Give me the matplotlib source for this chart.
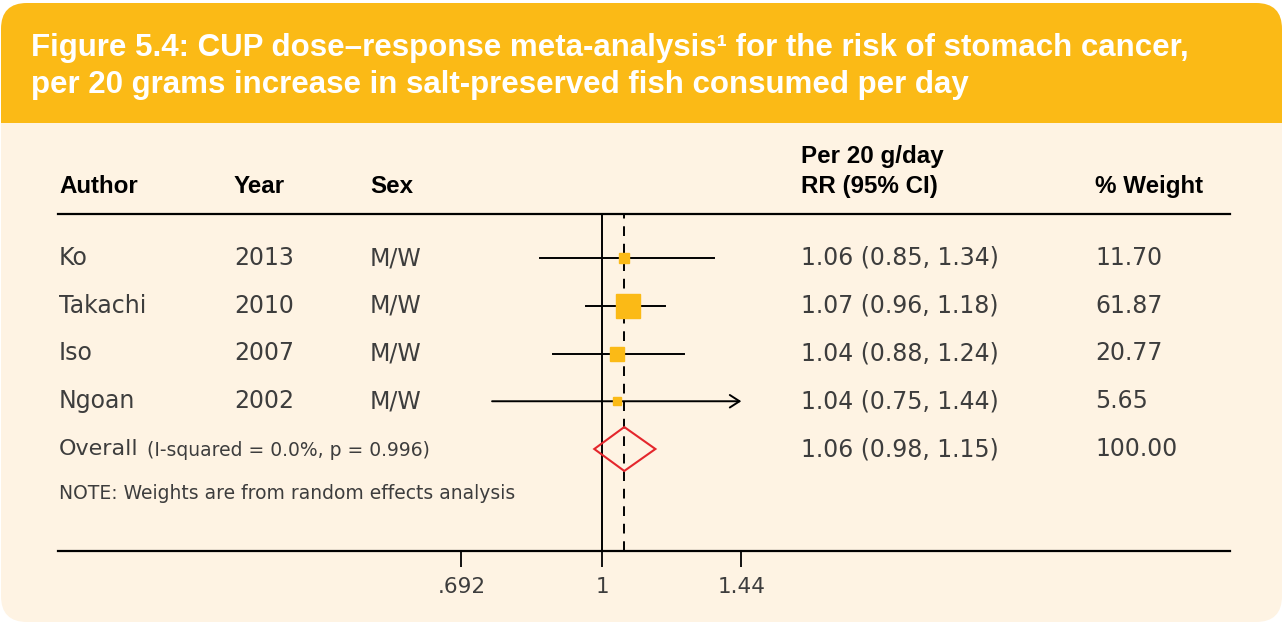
import numpy as np
import matplotlib
matplotlib.use("Agg")
import matplotlib.pyplot as plt
from matplotlib.patches import FancyBboxPatch, Rectangle, Polygon
from matplotlib.transforms import IdentityTransform, blended_transform_factory

# ---------------- data ----------------
authors = ["Ko", "Takachi", "Iso", "Ngoan"]
years = ["2013", "2010", "2007", "2002"]
sexes = ["M/W", "M/W", "M/W", "M/W"]
rr = [1.06, 1.07, 1.04, 1.04]
ci_low = [0.85, 0.96, 0.88, 0.75]
ci_high = [1.34, 1.18, 1.24, 1.44]
weights = [11.70, 61.87, 20.77, 5.65]
overall_rr = 1.06
overall_low = 0.98
overall_high = 1.15
overall_weight = 100.00
tick_values = [0.692, 1, 1.44]
tick_labels = [".692", "1", "1.44"]

title1 = "Figure 5.4: CUP dose\u2013response meta-analysis\u00b9 for the risk of stomach cancer,"
title2 = "per 20 grams increase in salt-preserved fish consumed per day"

# ---------------- style ----------------
W, H = 1283, 626
ORANGE = "#FBBA16"
CREAM = "#FEF3E3"
TXT = "#3D3D3D"
RED = "#E4262C"
BODY = ["DejaVu Sans"]
BOLD = ["Liberation Sans", "DejaVu Sans"]
TITLE_FONT = ["Liberation Sans", "DejaVu Sans"]

fig = plt.figure(figsize=(W / 100, H / 100), dpi=100, facecolor="white")

# background panels (pixel coords, origin bottom-left)
fig.patches.append(FancyBboxPatch((1, 4), W - 2, H - 7, boxstyle="round,pad=0,rounding_size=26",
                                  transform=IdentityTransform(), facecolor=CREAM, edgecolor="none", zorder=-3))
fig.patches.append(FancyBboxPatch((1, H - 123), W - 2, 120, boxstyle="round,pad=0,rounding_size=26",
                                  transform=IdentityTransform(), facecolor=ORANGE, edgecolor="none", zorder=-2))
fig.patches.append(Rectangle((1, H - 123), W - 2, 40, transform=IdentityTransform(),
                             facecolor=ORANGE, edgecolor="none", zorder=-2))

def fx(px):
    return px / W

def fy(py):
    return 1 - py / H

# title
fig.text(fx(31), fy(56), title1, color="white", fontsize=22.5, fontweight="bold",
         family=TITLE_FONT, va="baseline", ha="left")
fig.text(fx(31), fy(93), title2, color="white", fontsize=22.5, fontweight="bold",
         family=TITLE_FONT, va="baseline", ha="left")

# forest axes
x_left, x_right, y_top, y_bot = 58, 1230, 214, 551
ax = fig.add_axes([fx(x_left), fy(y_bot), (x_right - x_left) / W, (y_bot - y_top) / H])
ax.set_zorder(1)
ax.set_facecolor("none")
ax.set_xscale("log")
px_per_log = (742 - 462) / (np.log(1.44) - np.log(0.692))
ax.set_xlim(np.exp((x_left - 602) / px_per_log), np.exp((x_right - 602) / px_per_log))
row_gap = 47.75
ax.set_ylim((y_bot - 258) / row_gap, (y_top - 258) / row_gap)

for s in ["left", "right"]:
    ax.spines[s].set_visible(False)
for s in ["top", "bottom"]:
    ax.spines[s].set_linewidth(1.6)
    ax.spines[s].set_color("black")
ax.set_yticks([])
ax.set_xticks(tick_values)
ax.set_xticklabels(tick_labels)
ax.minorticks_off()
ax.tick_params(axis="x", which="major", direction="out", length=11.5, width=1.3, pad=7,
               labelsize=15.5, labelcolor=TXT, color="black")
for lab in ax.get_xticklabels():
    lab.set_family(BODY)

ax.axvline(1, color="black", lw=1.4, zorder=2)
ax.axvline(overall_rr, color="black", lw=1.4, ls=(0, (5, 4)), zorder=2)

rows = np.arange(len(authors))
for i in rows:
    hi = min(ci_high[i], tick_values[-1])
    if ci_high[i] >= tick_values[-1]:
        ax.annotate("", xy=(hi, i), xytext=(ci_low[i], i),
                    arrowprops=dict(arrowstyle="->,head_length=0.7,head_width=0.45", lw=1.4, color="black",
                                    shrinkA=0, shrinkB=0), zorder=3)
    else:
        ax.plot([ci_low[i], hi], [i, i], color="black", lw=1.4, zorder=3)
    ax.plot(rr[i], i, marker="s", ms=2.2 * np.sqrt(weights[i]), color=ORANGE, mec=ORANGE,
            zorder=4, ls="none")

oy = len(authors)
diamond = Polygon([(overall_low, oy), (overall_rr, oy - 0.46), (overall_high, oy), (overall_rr, oy + 0.46)],
                  closed=True, facecolor="none", edgecolor=RED, lw=1.5, zorder=5)
ax.add_patch(diamond)

# text columns
FS = 17
tr = blended_transform_factory(fig.transFigure, ax.transData)
col_author, col_year, col_sex, col_rr, col_w = 59, 234, 370, 801, 1095
for i in rows:
    ax.text(fx(col_author), i, authors[i], transform=tr, va="center", ha="left", fontsize=FS, color=TXT, family=BODY)
    ax.text(fx(col_year), i, years[i], transform=tr, va="center", ha="left", fontsize=FS, color=TXT, family=BODY)
    ax.text(fx(col_sex), i, sexes[i], transform=tr, va="center", ha="left", fontsize=FS, color=TXT, family=BODY)
    ax.text(fx(col_rr), i, f"{rr[i]:.2f} ({ci_low[i]:.2f}, {ci_high[i]:.2f})", transform=tr,
            va="center", ha="left", fontsize=FS, color=TXT, family=BODY)
    ax.text(fx(col_w), i, f"{weights[i]:.2f}", transform=tr, va="center", ha="left", fontsize=FS, color=TXT, family=BODY)

ax.text(fx(col_author), oy, "Overall", transform=tr, va="center", ha="left", fontsize=16, color=TXT, family=BODY)
ax.text(fx(147), oy + 0.03, "(I-squared = 0.0%, p = 0.996)", transform=tr, va="center", ha="left",
        fontsize=13.5, color=TXT, family=BODY)
ax.text(fx(col_rr), oy, f"{overall_rr:.2f} ({overall_low:.2f}, {overall_high:.2f})", transform=tr,
        va="center", ha="left", fontsize=FS, color=TXT, family=BODY)
ax.text(fx(col_w), oy, f"{overall_weight:.2f}", transform=tr, va="center", ha="left", fontsize=FS, color=TXT, family=BODY)
ax.text(fx(col_author), oy + 0.93, "NOTE: Weights are from random effects analysis", transform=tr,
        va="center", ha="left", fontsize=13.5, color=TXT, family=BODY)

# headers
hdr = dict(fontsize=17.4, fontweight="bold", color="black", family=BOLD, va="center", ha="left")
fig.text(fx(col_author), fy(187), "Author", **hdr)
fig.text(fx(col_year), fy(187), "Year", **hdr)
fig.text(fx(col_sex), fy(187), "Sex", **hdr)
fig.text(fx(col_rr), fy(157), "Per 20 g/day", **hdr)
fig.text(fx(col_rr), fy(187), "RR (95% CI)", **hdr)
fig.text(fx(col_w), fy(187), "% Weight", **hdr)

fig.savefig("out.png", dpi=100, facecolor="white")
